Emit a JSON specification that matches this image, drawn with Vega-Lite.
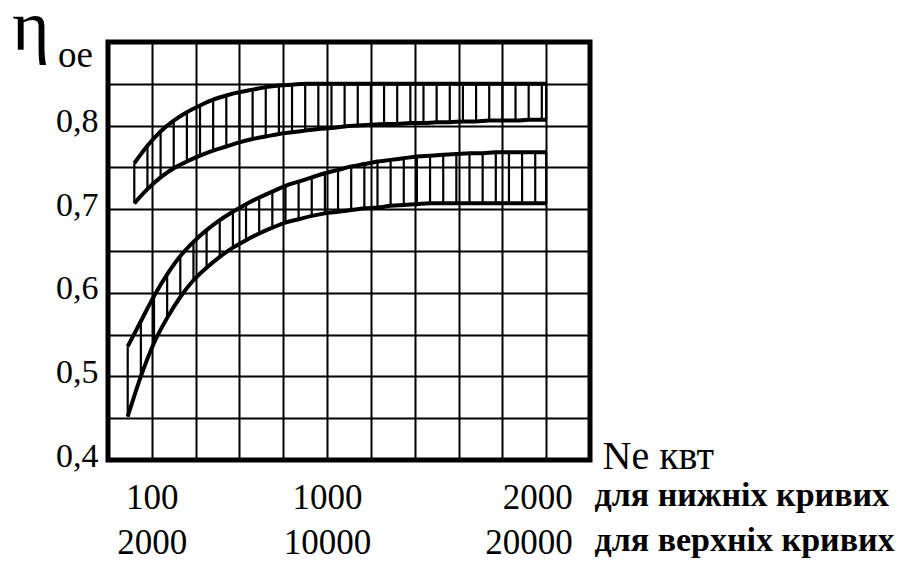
{
  "$schema": "https://vega.github.io/schema/vega-lite/v6.json",
  "width": 482,
  "height": 418,
  "autosize": {"type": "none"},
  "padding": {"left": 108, "top": 42, "right": 320, "bottom": 101},
  "background": "white",
  "config": {
    "view": {"stroke": "black", "strokeWidth": 5},
    "font": "Liberation Serif",
    "axis": {"labelFont": "Liberation Serif", "titleFont": "Liberation Serif"},
    "text": {"font": "Liberation Serif"}
  },
  "datasets": {
    "bands": [
      {"band": "upper", "x": 0.6, "top": 0.755, "bottom": 0.707},
      {"band": "upper", "x": 0.9, "top": 0.776, "bottom": 0.724},
      {"band": "upper", "x": 1.2, "top": 0.793, "bottom": 0.738},
      {"band": "upper", "x": 1.5, "top": 0.806, "bottom": 0.749},
      {"band": "upper", "x": 1.8, "top": 0.816, "bottom": 0.757},
      {"band": "upper", "x": 2.1, "top": 0.824, "bottom": 0.764},
      {"band": "upper", "x": 2.4, "top": 0.831, "bottom": 0.770},
      {"band": "upper", "x": 2.7, "top": 0.836, "bottom": 0.775},
      {"band": "upper", "x": 3.0, "top": 0.840, "bottom": 0.780},
      {"band": "upper", "x": 3.3, "top": 0.843, "bottom": 0.784},
      {"band": "upper", "x": 3.6, "top": 0.846, "bottom": 0.787},
      {"band": "upper", "x": 3.9, "top": 0.848, "bottom": 0.790},
      {"band": "upper", "x": 4.2, "top": 0.849, "bottom": 0.792},
      {"band": "upper", "x": 4.5, "top": 0.850, "bottom": 0.794},
      {"band": "upper", "x": 4.8, "top": 0.850, "bottom": 0.796},
      {"band": "upper", "x": 5.1, "top": 0.850, "bottom": 0.797},
      {"band": "upper", "x": 5.4, "top": 0.850, "bottom": 0.799},
      {"band": "upper", "x": 5.7, "top": 0.850, "bottom": 0.800},
      {"band": "upper", "x": 6.0, "top": 0.850, "bottom": 0.801},
      {"band": "upper", "x": 6.3, "top": 0.850, "bottom": 0.802},
      {"band": "upper", "x": 6.6, "top": 0.850, "bottom": 0.802},
      {"band": "upper", "x": 6.9, "top": 0.850, "bottom": 0.803},
      {"band": "upper", "x": 7.2, "top": 0.850, "bottom": 0.803},
      {"band": "upper", "x": 7.5, "top": 0.850, "bottom": 0.804},
      {"band": "upper", "x": 7.8, "top": 0.850, "bottom": 0.804},
      {"band": "upper", "x": 8.1, "top": 0.850, "bottom": 0.805},
      {"band": "upper", "x": 8.4, "top": 0.850, "bottom": 0.805},
      {"band": "upper", "x": 8.7, "top": 0.850, "bottom": 0.806},
      {"band": "upper", "x": 9.0, "top": 0.850, "bottom": 0.806},
      {"band": "upper", "x": 9.3, "top": 0.850, "bottom": 0.806},
      {"band": "upper", "x": 9.6, "top": 0.850, "bottom": 0.807},
      {"band": "upper", "x": 9.9, "top": 0.850, "bottom": 0.807},
      {"band": "upper", "x": 10.0, "top": 0.850, "bottom": 0.807},
      {"band": "lower", "x": 0.45, "top": 0.536, "bottom": 0.452},
      {"band": "lower", "x": 0.75, "top": 0.566, "bottom": 0.500},
      {"band": "lower", "x": 1.05, "top": 0.596, "bottom": 0.540},
      {"band": "lower", "x": 1.35, "top": 0.622, "bottom": 0.570},
      {"band": "lower", "x": 1.65, "top": 0.644, "bottom": 0.595},
      {"band": "lower", "x": 1.95, "top": 0.661, "bottom": 0.615},
      {"band": "lower", "x": 2.25, "top": 0.675, "bottom": 0.630},
      {"band": "lower", "x": 2.55, "top": 0.687, "bottom": 0.643},
      {"band": "lower", "x": 2.85, "top": 0.697, "bottom": 0.654},
      {"band": "lower", "x": 3.15, "top": 0.706, "bottom": 0.663},
      {"band": "lower", "x": 3.45, "top": 0.714, "bottom": 0.671},
      {"band": "lower", "x": 3.75, "top": 0.721, "bottom": 0.678},
      {"band": "lower", "x": 4.05, "top": 0.728, "bottom": 0.684},
      {"band": "lower", "x": 4.35, "top": 0.733, "bottom": 0.688},
      {"band": "lower", "x": 4.65, "top": 0.738, "bottom": 0.692},
      {"band": "lower", "x": 4.95, "top": 0.743, "bottom": 0.695},
      {"band": "lower", "x": 5.25, "top": 0.747, "bottom": 0.697},
      {"band": "lower", "x": 5.55, "top": 0.751, "bottom": 0.699},
      {"band": "lower", "x": 5.85, "top": 0.754, "bottom": 0.701},
      {"band": "lower", "x": 6.15, "top": 0.757, "bottom": 0.702},
      {"band": "lower", "x": 6.45, "top": 0.759, "bottom": 0.704},
      {"band": "lower", "x": 6.75, "top": 0.761, "bottom": 0.705},
      {"band": "lower", "x": 7.05, "top": 0.763, "bottom": 0.706},
      {"band": "lower", "x": 7.35, "top": 0.764, "bottom": 0.707},
      {"band": "lower", "x": 7.65, "top": 0.765, "bottom": 0.707},
      {"band": "lower", "x": 7.95, "top": 0.766, "bottom": 0.707},
      {"band": "lower", "x": 8.25, "top": 0.767, "bottom": 0.707},
      {"band": "lower", "x": 8.55, "top": 0.767, "bottom": 0.707},
      {"band": "lower", "x": 8.85, "top": 0.768, "bottom": 0.707},
      {"band": "lower", "x": 9.15, "top": 0.768, "bottom": 0.707},
      {"band": "lower", "x": 9.45, "top": 0.768, "bottom": 0.707},
      {"band": "lower", "x": 9.75, "top": 0.768, "bottom": 0.707},
      {"band": "lower", "x": 10.0, "top": 0.768, "bottom": 0.707}
    ],
    "titles": [
      {"t": "η", "size": 72, "dx": -96, "dy": 8},
      {"t": "oe", "size": 37, "dx": -50, "dy": 25}
    ]
  },
  "layer": [
    {
      "data": {"name": "bands"},
      "mark": {"type": "rule", "color": "black", "strokeWidth": 2.2},
      "encoding": {
        "x": {
          "field": "x",
          "type": "quantitative",
          "scale": {"domain": [0, 11], "nice": false, "zero": false},
          "axis": {
            "values": [0, 1, 2, 3, 4, 5, 6, 7, 8, 9, 10, 11],
            "grid": true,
            "gridColor": "black",
            "gridWidth": 2,
            "gridOpacity": 1,
            "domain": false,
            "ticks": false,
            "labelExpr": "datum.value == 1 ? ['100', '2000'] : datum.value == 5 ? ['1000', '10000'] : datum.value == 10 ? ['2000', '20000'] : datum.value == 11 ? ['для нижніх кривих', 'для верхніх кривих'] : ''",
            "labelFont": "Liberation Serif",
            "labelFontSize": {"condition": {"test": "datum.value == 11", "value": 34}, "value": 35},
            "labelFontWeight": {"condition": {"test": "datum.value == 11", "value": "bold"}, "value": "normal"},
            "labelAlign": {"condition": [{"test": "datum.value == 11", "value": "left"}, {"test": "datum.value == 10", "value": "right"}], "value": "center"},
            "labelOffset": {"condition": [{"test": "datum.value == 10", "value": 26}, {"test": "datum.value == 11", "value": 4}], "value": 0},
            "labelPadding": {"condition": {"test": "datum.value == 11", "value": 45}, "value": 48},
            "labelColor": "black",
            "labelLineHeight": 45,
            "labelBaseline": "alphabetic",
            "labelOverlap": false,
            "labelFlush": false,
            "labelBound": false,
            "labelLimit": 0,
            "title": "Ne квт",
            "titleFont": "Liberation Serif",
            "titleFontSize": 40,
            "titleFontWeight": "normal",
            "titleColor": "black",
            "titleAlign": "left",
            "titleBaseline": "alphabetic",
            "titleX": 494,
            "titleY": 8
          }
        },
        "y": {
          "field": "top",
          "type": "quantitative",
          "scale": {"domain": [0.4, 0.9], "nice": false, "zero": false},
          "axis": {
            "values": [0.4, 0.45, 0.5, 0.55, 0.6, 0.65, 0.7, 0.75, 0.8, 0.85, 0.9],
            "grid": true,
            "gridColor": "black",
            "gridWidth": 2,
            "gridOpacity": 1,
            "domain": false,
            "ticks": false,
            "labelExpr": "(round(datum.value * 100) % 10 == 0 && datum.value < 0.85) ? replace(format(datum.value, '.1f'), '.', ',') : ''",
            "labelFont": "Liberation Serif",
            "labelFontSize": 34,
            "labelColor": "black",
            "labelBaseline": "alphabetic",
            "labelOffset": 6,
            "labelPadding": 10,
            "labelOverlap": false,
            "labelFlush": false,
            "title": null
          }
        },
        "y2": {"field": "bottom"}
      }
    },
    {
      "data": {"name": "bands"},
      "mark": {"type": "line", "color": "black", "strokeWidth": 4, "interpolate": "monotone"},
      "encoding": {
        "x": {"field": "x", "type": "quantitative"},
        "y": {"field": "top", "type": "quantitative"},
        "detail": {"field": "band"}
      }
    },
    {
      "data": {"name": "bands"},
      "mark": {"type": "line", "color": "black", "strokeWidth": 4, "interpolate": "monotone"},
      "encoding": {
        "x": {"field": "x", "type": "quantitative"},
        "y": {"field": "bottom", "type": "quantitative"},
        "detail": {"field": "band"}
      }
    },
    {
      "data": {"name": "titles"},
      "mark": {"type": "text", "align": "left", "baseline": "alphabetic", "color": "black", "font": "Liberation Serif"},
      "encoding": {
        "x": {"datum": 0},
        "y": {"datum": 0.9},
        "text": {"field": "t"},
        "size": {"field": "size", "type": "quantitative", "scale": null},
        "xOffset": {"field": "dx", "type": "quantitative", "scale": null},
        "yOffset": {"field": "dy", "type": "quantitative", "scale": null}
      }
    }
  ]
}
